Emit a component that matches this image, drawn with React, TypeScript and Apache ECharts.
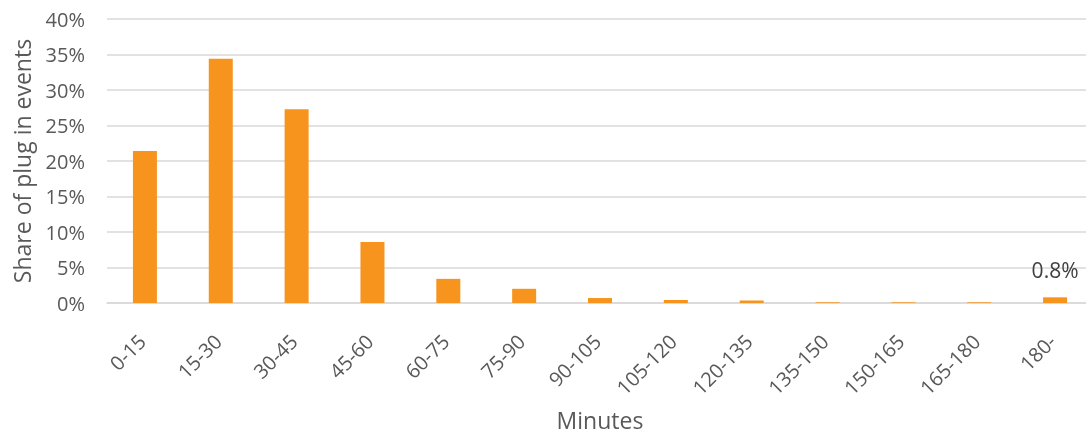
import React, { useEffect, useRef } from "react";
import * as echarts from "echarts";

const categories = ["0-15", "15-30", "30-45", "45-60", "60-75", "75-90", "90-105", "105-120", "120-135", "135-150", "150-165", "165-180", "180-"];
const shares = [21.4, 34.4, 27.3, 8.6, 3.4, 2.0, 0.7, 0.42, 0.35, 0.1, 0.1, 0.1, 0.8];
const yTicks = [0, 5, 10, 15, 20, 25, 30, 35, 40];
const labeledIndex = 12;

const FONT = "'Open Sans', 'Noto Sans', sans-serif";

export default function App() {
  const ref = useRef<HTMLDivElement>(null);
  useEffect(() => {
    if (!ref.current) return;
    const chart = echarts.init(ref.current, undefined, { renderer: "svg" });
    chart.setOption({
      animation: false,
      grid: { left: 107, right: -7, top: 19, bottom: 132, containLabel: false, outerBoundsMode: "none" },
      xAxis: {
        type: "category",
        data: categories,
        name: "Minutes",
        nameLocation: "middle",
        nameGap: 105,
        nameTextStyle: { fontSize: 23, color: "#595959", fontFamily: FONT },
        axisLine: { lineStyle: { color: "#d9d9d9", width: 1.5 } },
        axisTick: { show: false },
        axisLabel: { rotate: 45, fontSize: 20, color: "#595959", fontFamily: FONT, margin: 32, padding: [0, 4, 0, 0], interval: 0 },
      },
      yAxis: {
        type: "value",
        min: yTicks[0],
        max: yTicks[yTicks.length - 1],
        interval: 5,
        name: "Share of plug in events",
        nameLocation: "middle",
        nameGap: 74,
        nameTextStyle: { fontSize: 23, color: "#595959", fontFamily: FONT },
        axisLine: { show: false },
        axisTick: { show: false },
        splitLine: { lineStyle: { color: "#d9d9d9", width: 1.5 } },
        axisLabel: { formatter: "{value}%", fontSize: 20, color: "#595959", fontFamily: FONT, margin: 22 },
      },
      series: [
        {
          type: "bar",
          barWidth: 24,
          itemStyle: { color: "#f7941d" },
          data: shares.map((v, i) =>
            i === labeledIndex
              ? { value: v, label: { show: true, position: "top", formatter: v.toFixed(1) + "%", fontSize: 21, color: "#404040", fontFamily: FONT, distance: 17 } }
              : v
          ),
        },
      ],
    });
    return () => chart.dispose();
  }, []);
  return <div ref={ref} style={{ position: "fixed", left: 0, top: 0, width: 1086, height: 435 }} />;
}
